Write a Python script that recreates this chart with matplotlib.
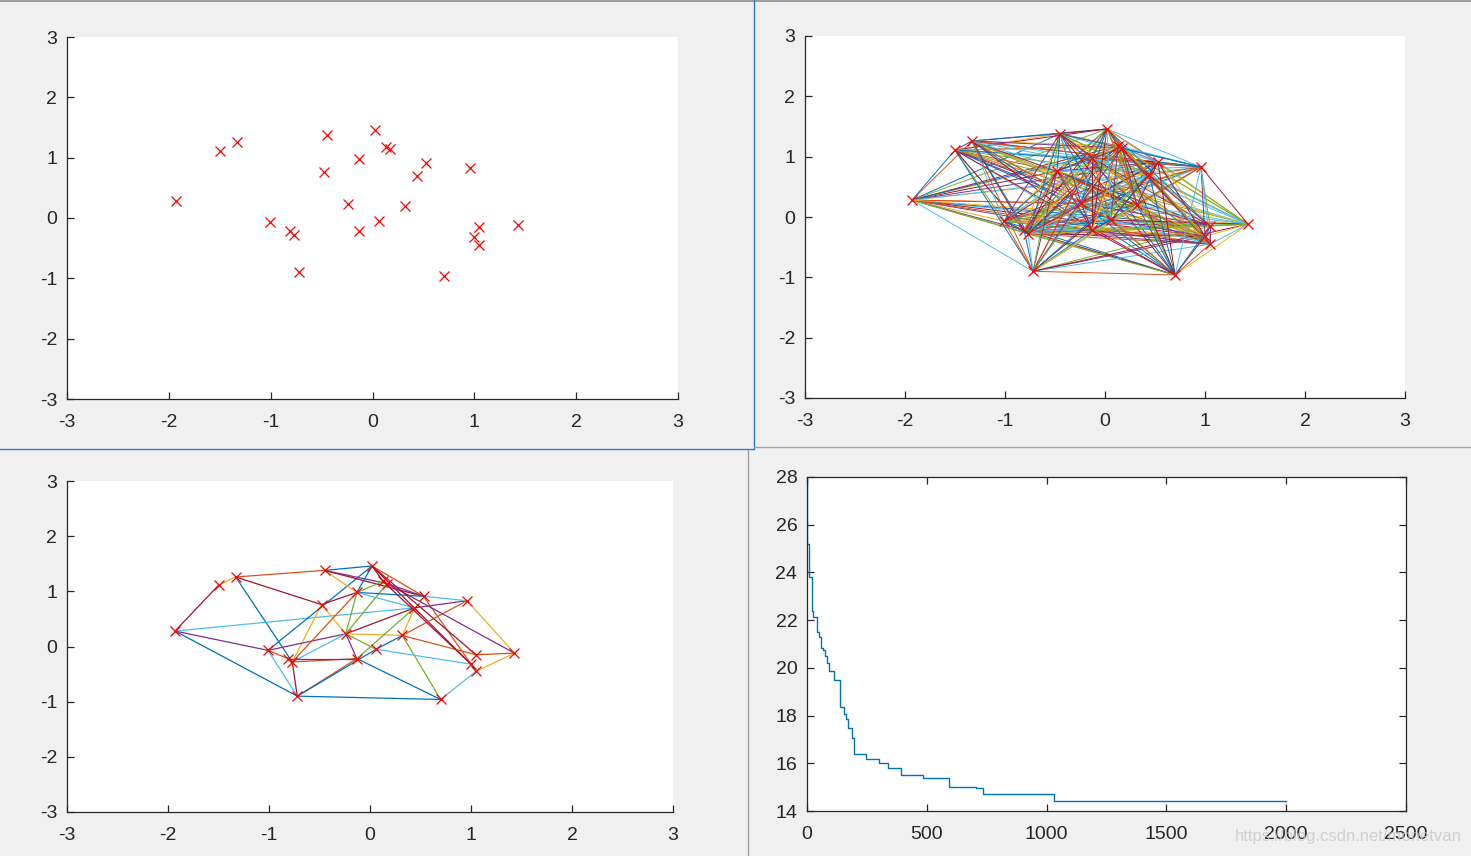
import matplotlib
matplotlib.use("Agg")
import matplotlib.pyplot as plt
import numpy as np
from matplotlib.lines import Line2D

plt.rcParams['font.family'] = ['Liberation Sans', 'DejaVu Sans']
plt.rcParams['axes.unicode_minus'] = False

# ---- data ----
px = [-1.93, -1.50, -1.33, -1.01, -0.81, -0.77, -0.72, -0.48, -0.45, -0.24,
      -0.13, -0.13, 0.02, 0.06, 0.13, 0.17, 0.32, 0.44, 0.53, 0.70,
      0.96, 1.00, 1.05, 1.05, 1.43]
py = [0.28, 1.11, 1.26, -0.07, -0.22, -0.28, -0.90, 0.76, 1.38, 0.23,
      0.98, -0.22, 1.46, -0.05, 1.18, 1.14, 0.20, 0.70, 0.91, -0.96,
      0.83, -0.32, -0.15, -0.45, -0.12]

matlab_colors = ['#0072BD', '#D95319', '#EDB120', '#7E2F8E', '#77AC30', '#4DBEEE', '#A2142F']
cmap = {'b': '#0072BD', 'o': '#D95319', 'y': '#EDB120', 'p': '#7E2F8E',
        'g': '#77AC30', 'c': '#4DBEEE', 'r': '#A2142F'}

# edges of the final network (bottom-left)
net_edges = [(0, 1, 'r'), (1, 2, 'y'), (2, 8, 'o'), (2, 7, 'r'), (2, 5, 'b'), (0, 17, 'c'),
             (0, 3, 'p'), (0, 6, 'b'), (3, 6, 'c'), (3, 4, 'o'), (5, 6, 'r'), (6, 19, 'b'),
             (6, 11, 'o'), (6, 13, 'b'), (3, 12, 'b'), (7, 10, 'r'), (7, 9, 'y'), (7, 5, 'y'),
             (8, 12, 'b'), (8, 10, 'y'), (8, 15, 'p'), (8, 18, 'r'), (12, 18, 'o'), (12, 10, 'b'),
             (12, 21, 'r'), (14, 10, 'g'), (9, 10, 'g'), (9, 15, 'g'), (10, 18, 'b'), (10, 17, 'c'),
             (17, 20, 'p'), (18, 20, 'c'), (15, 18, 'p'), (18, 23, 'o'), (20, 24, 'y'), (24, 23, 'y'),
             (23, 19, 'c'), (15, 24, 'p'), (16, 22, 'o'), (22, 24, 'o'), (16, 20, 'o'), (16, 19, 'g'),
             (13, 21, 'c'), (21, 23, 'b'), (9, 16, 'y'), (16, 17, 'y'), (9, 17, 'r'), (9, 3, 'p'),
             (9, 11, 'p'), (9, 13, 'g'), (9, 5, 'c'), (11, 19, 'b'), (5, 11, 'o'), (4, 11, 'p'),
             (13, 16, 'b'), (11, 17, 'g'), (5, 10, 'o'), (12, 22, 'r'), (14, 21, 'r'), (12, 14, 'r')]

# convergence curve (bottom-right): iteration where a new best value starts, and value
step_iter = [0, 2, 8, 20, 26, 43, 50, 57, 68, 75, 82, 93, 114, 138, 156, 163, 173, 189,
             198, 245, 302, 337, 394, 483, 594, 705, 733, 1031, 2000]
step_val = [27.9, 25.2, 23.8, 22.4, 22.15, 21.5, 21.3, 20.85, 20.75, 20.5, 20.2, 19.85,
            19.5, 18.35, 18.05, 17.85, 17.5, 17.05, 16.4, 16.2, 16.0, 15.8, 15.5, 15.4,
            15.0, 14.95, 14.7, 14.4, 14.4]

xy_ticks = [-3, -2, -1, 0, 1, 2, 3]
conv_xticks = [0, 500, 1000, 1500, 2000, 2500]
conv_yticks = [14, 16, 18, 20, 22, 24, 26, 28]

# ---- figure ----
W, H = 1471, 856
fig = plt.figure(figsize=(W / 100, H / 100), dpi=100, facecolor='#f0f0f0')

def rect(x0, y0, x1, y1):
    return [x0 / W, 1 - y1 / H, (x1 - x0) / W, (y1 - y0) / H]

axcol = '#262626'

def style(ax, box=False):
    ax.set_facecolor('white')
    for s in ['top', 'right']:
        ax.spines[s].set_visible(box)
    for s in ax.spines.values():
        s.set_color(axcol)
        s.set_linewidth(0.9)
    ax.tick_params(direction='in', length=5, width=0.9, colors=axcol,
                   labelsize=14, top=box, right=box)
    ax.tick_params(axis='x', pad=11)
    ax.tick_params(axis='y', pad=7)

def set_xy(ax):
    ax.set_xlim(-3, 3)
    ax.set_ylim(-3, 3)
    ax.set_xticks(xy_ticks)
    ax.set_yticks(xy_ticks)

mk = dict(linestyle='none', marker='x', color='red', markersize=7, markeredgewidth=0.9, zorder=5)

# top-left: points only
ax1 = fig.add_axes(rect(67, 37, 678, 399))
style(ax1)
set_xy(ax1)
ax1.plot(px, py, **mk)

# top-right: complete graph
ax2 = fig.add_axes(rect(805, 36, 1405, 398))
style(ax2)
set_xy(ax2)
k = 0
n = len(px)
for i in range(n):
    for j in range(i + 1, n):
        ax2.plot([px[i], px[j]], [py[i], py[j]], color=matlab_colors[k % 7], lw=0.7)
        k += 1
ax2.plot(px, py, **mk)

# bottom-left: final network
ax3 = fig.add_axes(rect(67, 481, 673, 812))
style(ax3)
set_xy(ax3)
for i, j, c in net_edges:
    ax3.plot([px[i], px[j]], [py[i], py[j]], color=cmap[c], lw=0.9)
ax3.plot(px, py, **mk)

# bottom-right: convergence
ax4 = fig.add_axes(rect(807, 477, 1406, 811))
style(ax4, box=True)
ax4.plot(step_iter, step_val, drawstyle='steps-post', color='#0072BD', lw=1.0)
ax4.set_xlim(0, 2500)
ax4.set_ylim(14, 28)
ax4.set_xticks(conv_xticks)
ax4.set_yticks(conv_yticks)

# window separators
fig.add_artist(Line2D([0, 1], [1 - 0.5 / H, 1 - 0.5 / H], color='#a0a0a0', lw=1.5))
fig.add_artist(Line2D([754 / W, 754 / W], [1 - 448 / H, 1], color='#2b7bd0', lw=1.0))
fig.add_artist(Line2D([0, 754 / W], [1 - 449 / H, 1 - 449 / H], color='#2b7bd0', lw=1.0))
fig.add_artist(Line2D([754 / W, 1], [1 - 447 / H, 1 - 447 / H], color='#a0a0a0', lw=1.0))
fig.add_artist(Line2D([748 / W, 748 / W], [0, 1 - 450 / H], color='#a0a0a0', lw=1.0))

fig.text(1462 / W, 1 - 837 / H, 'https://blog.csdn.net/monetvan', ha='right', va='center',
         fontsize=12, color='#c8c8c8', alpha=0.8)

fig.savefig('out.png', dpi=100, facecolor=fig.get_facecolor())
